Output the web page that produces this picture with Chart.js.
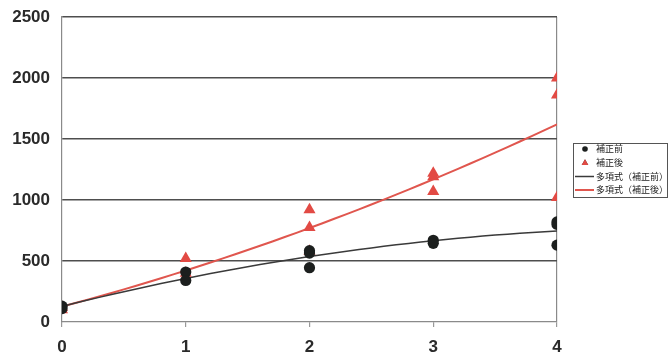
<!DOCTYPE html>
<html>
<head>
<meta charset="utf-8">
<script src="https://cdn.jsdelivr.net/npm/chart.js@4/dist/chart.umd.min.js"></script>
<style>
  html, body { margin: 0; padding: 0; background: #fff; }
  #wrap { width: 669px; height: 353px; }
</style>
</head>
<body>
<div id="wrap"><canvas id="fitChart"></canvas></div>
<script>
const seriesNames = ['補正前', '補正後', '多項式（補正前）', '多項式（補正後）'];

const beforeX = [0, 0, 1, 1, 2, 2, 2, 3, 3, 4, 4, 4];
const beforeY = [130, 110, 410, 340, 585, 565, 445, 670, 645, 820, 800, 630];

const afterX = [0, 0, 1, 1, 2, 2, 2, 3, 3, 3, 4, 4, 4];
const afterY = [100, 120, 520, 400, 920, 775, 580, 1220, 1190, 1070, 2000, 1860, 1020];

const xTicks = [0, 1, 2, 3, 4];
const yTicks = [0, 500, 1000, 1500, 2000, 2500];

const BLACK = '#1c1f1e';
const RED = '#e24a44';
const TREND_BLACK = '#3a3a3a';
const TREND_RED = '#e0564e';

function toPoints(xs, ys) {
    return xs.map((x, i) => ({ x: x, y: ys[i] }));
}

// least squares fit of a 2nd order polynomial (spreadsheet style trendline)
function quadFit(xs, ys) {
    const s = [0, 0, 0, 0, 0];
    const t = [0, 0, 0];
    for (let i = 0; i < xs.length; i++) {
        let p = 1;
        for (let k = 0; k < 5; k++) { s[k] += p; p *= xs[i]; }
        p = 1;
        for (let k = 0; k < 3; k++) { t[k] += p * ys[i]; p *= xs[i]; }
    }
    const m = [
        [s[0], s[1], s[2], t[0]],
        [s[1], s[2], s[3], t[1]],
        [s[2], s[3], s[4], t[2]]
    ];
    for (let c = 0; c < 3; c++) {
        for (let r = c + 1; r < 3; r++) {
            const f = m[r][c] / m[c][c];
            for (let k = c; k < 4; k++) m[r][k] -= f * m[c][k];
        }
    }
    const coef = [0, 0, 0];
    for (let r = 2; r >= 0; r--) {
        let v = m[r][3];
        for (let k = r + 1; k < 3; k++) v -= m[r][k] * coef[k];
        coef[r] = v / m[r][r];
    }
    return coef;
}

function trendLine(xs, ys) {
    const c = quadFit(xs, ys);
    const pts = [];
    for (let i = 0; i <= 40; i++) {
        const x = i / 10;
        pts.push({ x: x, y: c[0] + c[1] * x + c[2] * x * x });
    }
    return pts;
}

// boxed legend to the right of the plot
const boxLegend = {
    id: 'boxLegend',
    afterDraw(chart) {
        const c = chart.ctx;
        const left = chart.chartArea.right + 16;
        const top = 143;
        const w = 94, h = 54;
        const rowY = [149, 163, 176.5, 190];
        c.save();
        c.fillStyle = '#fff';
        c.fillRect(left, top, w, h);
        c.strokeStyle = '#555';
        c.lineWidth = 1;
        c.strokeRect(left + 0.5, top + 0.5, w, h);

        const mx = left + 12;
        chart.data.datasets.forEach((ds, i) => {
            const y = rowY[i];
            if (ds.showLine) {
                c.strokeStyle = ds.borderColor;
                c.lineWidth = ds.borderWidth;
                c.beginPath();
                c.moveTo(left + 2, y);
                c.lineTo(left + 21, y);
                c.stroke();
            } else {
                Chart.helpers.drawPoint(c, {
                    pointStyle: ds.pointStyle,
                    radius: ds.pointStyle === 'circle' ? 2.8 : 3.8,
                    rotation: 0,
                    borderWidth: 0
                }, mx, y);
                c.fillStyle = ds.backgroundColor;
                c.fill();
            }
            c.fillStyle = '#222';
            c.font = '9px "Noto Sans CJK JP", sans-serif';
            c.textBaseline = 'middle';
            c.fillText(ds.label, left + 23, y);
        });
        c.restore();
    }
};

const tickFont = { family: 'Arial, "Liberation Sans", sans-serif', size: 17, weight: 'bold' };

const ctx = document.getElementById('fitChart').getContext('2d');

const chart = new Chart(ctx, {
    type: 'scatter',
    data: {
        datasets: [{
            label: seriesNames[0],
            data: toPoints(beforeX, beforeY),
            pointStyle: 'circle',
            pointRadius: 5.6,
            backgroundColor: BLACK,
            borderColor: BLACK,
            borderWidth: 0
        }, {
            label: seriesNames[1],
            data: toPoints(afterX, afterY),
            pointStyle: 'triangle',
            pointRadius: 7,
            backgroundColor: RED,
            borderColor: RED,
            borderWidth: 0
        }, {
            label: seriesNames[2],
            data: trendLine(beforeX, beforeY),
            showLine: true,
            pointRadius: 0,
            borderColor: TREND_BLACK,
            backgroundColor: TREND_BLACK,
            borderWidth: 1.5
        }, {
            label: seriesNames[3],
            data: trendLine(afterX, afterY),
            showLine: true,
            pointRadius: 0,
            borderColor: TREND_RED,
            backgroundColor: TREND_RED,
            borderWidth: 2
        }]
    },
    options: {
        responsive: true,
        maintainAspectRatio: false,
        animation: false,
        layout: { padding: { top: 17, right: 112, left: 0, bottom: 0 } },
        plugins: {
            tooltip: { enabled: false },
            legend: { display: false }
        },
        scales: {
            x: {
                type: 'linear',
                min: 0,
                max: 4,
                afterBuildTicks(axis) {
                    axis.ticks = xTicks.map(v => ({ value: v }));
                },
                afterFit(axis) {
                    axis.height = 31;
                    axis.paddingLeft = 0;
                    axis.paddingRight = 0;
                },
                grid: {
                    color: c => (c.tick && c.tick.value === 4) ? '#8a8a8a' : 'transparent',
                    tickColor: '#999',
                    tickLength: 5,
                    lineWidth: 1.2
                },
                border: { display: true, color: '#8a8a8a', width: 1.2 },
                ticks: {
                    color: '#2a2a2a',
                    padding: 10,
                    font: tickFont,
                    callback: v => String(v)
                }
            },
            y: {
                min: 0,
                max: 2500,
                afterBuildTicks(axis) {
                    axis.ticks = yTicks.map(v => ({ value: v }));
                },
                afterFit(axis) {
                    axis.width = 62;
                    axis.paddingTop = 0;
                    axis.paddingBottom = 0;
                },
                grid: {
                    color: c => (c.tick && c.tick.value === 0) ? 'transparent' : '#4e4e4e',
                    lineWidth: 1.4,
                    drawTicks: false
                },
                border: { display: true, color: '#8a8a8a', width: 1.2 },
                ticks: {
                    color: '#2a2a2a',
                    padding: 12,
                    font: tickFont,
                    callback: v => String(v)
                }
            }
        }
    },
    plugins: [boxLegend]
});
</script>
</body>
</html>
